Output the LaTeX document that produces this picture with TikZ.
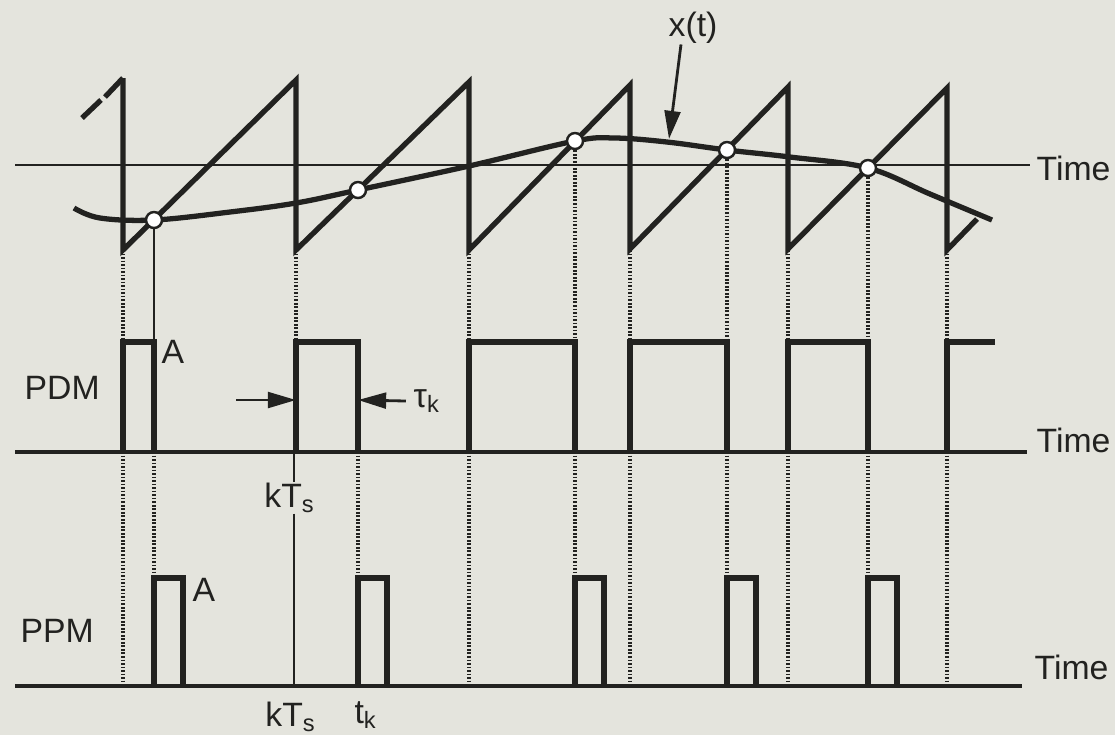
\documentclass[tikz,border=0pt]{standalone}
\usepackage{fontspec}
\setmainfont{Liberation Sans}
\usetikzlibrary{arrows.meta}
\definecolor{paper}{RGB}{228,228,221}
\definecolor{ink}{RGB}{34,34,32}
\begin{document}
\begin{tikzpicture}[x=0.01cm, y=-0.01cm, ink,
  wave/.style={line width=1.5pt},
  axis/.style={line width=0.7pt},
  guide/.style={line width=0.9pt, dash pattern=on 0.5pt off 0.5pt},
  samp/.style={circle, draw, line width=0.7pt, fill=white, inner sep=0pt, minimum size=0.16cm},
  lbl/.style={font=\fontsize{9.6}{11}\selectfont, inner sep=0pt},
  >={Triangle[length=8pt, width=4.5pt]}]
\fill[paper] (0,0) rectangle (1115,735);
\useasboundingbox (0,0) rectangle (1115,735);
\coordinate (pdmtop) at (0,342);
\coordinate (pdmbase) at (0,452);
\coordinate (ppmtop) at (0,578);
\coordinate (ppmbase) at (0,686);
\draw[axis] (15,165) -- (1030,165);
\node[lbl, anchor=west] (time1) at (1036,168) {Time};
\draw[wave] (82,118) -- (101,100);
\draw[wave] (105,97) -- (123,78);
\draw[wave] (123,78) -- (123,250) -- (296,80) -- (296,250) -- (469,82) -- (469,250) -- (630,85) -- (630,249) -- (788,87) -- (788,249) -- (947,88) -- (947,250) -- (977,219);
\draw[wave] plot[smooth, tension=0.6] coordinates {(74,208) (100,218) (154,220) (230,212) (296,203) (358,190) (469,166) (575,141) (615,138) (667,142) (727,150) (790,157) (868,168) (930,194) (992,220)};
\foreach \x/\y [count=\i] in {154/220, 358/190, 575/141, 727/150, 868/168}
  \node[samp] (s\i) at (\x,\y) {};
\node[lbl] (xt) at (693,28) {x(t)};
\coordinate (xa) at (669,139);
\draw[->, line width=0.8pt] ([xshift=-0.12cm]xt.south) -- (xa);
\foreach \x in {123,296,469,630,788,947}
  \draw[guide] (\x,250) -- (\x,342);
\draw[axis] (s1.south) -- (s1.south |- pdmtop);
\foreach \i in {3,4,5}
  \draw[guide] (s\i.south) -- (s\i.south |- pdmtop);
\draw[line width=1pt] (15,452) -- (1027,452);
\foreach \a/\b in {123/154, 296/358, 469/575, 630/727, 788/868}
  \draw[wave] (\a,452) -- (\a,342) -- (\b,342) -- (\b,452);
\draw[wave] (947,452) -- (947,342) -- (995,342);
\node[lbl, anchor=west] (pdm) at (24,388) {PDM};
\node[lbl, anchor=west] (a1) at (161,352) {A};
\node[lbl, anchor=west] (time2) at (1036,440) {Time};
\node[lbl, anchor=west] (tau) at (413,401) {τ\textsubscript{k}};
\coordinate (wl) at (296,400);
\coordinate (wr) at (358,400);
\coordinate (wa) at (236,400);
\draw[->, line width=0.8pt] (wa) -- (wl);
\draw[->, line width=0.8pt] ([xshift=-2pt]tau.west) -- (wr);
\node[lbl] (kts) at (290,498) {kT\textsubscript{s}};
\coordinate (kt) at (294,452);
\draw[axis] (kt) -- (kt |- kts.north);
\draw[axis] (kt |- kts.south) -- (kt |- ppmbase);
\foreach \x in {123,469,630,788,947}
  \draw[guide] (\x,452) -- (\x,686);
\foreach \i in {1,...,5}
  \draw[guide] (s\i |- pdmbase) -- (s\i |- ppmtop);
\draw[line width=1pt] (15,686) -- (1022,686);
\foreach \a in {154,358,575,727,868}
  \draw[wave] (\a,686) -- (\a,578) -- ++(29,0) -- ++(0,108);
\node[lbl, anchor=west] (ppm) at (20,631) {PPM};
\node[lbl, anchor=west] (a2) at (192,590) {A};
\node[lbl, anchor=west] (time3) at (1034,667) {Time};
\node[lbl, anchor=north] (kts2) at (291,701) {kT\textsubscript{s}};
\node[lbl, anchor=north] (tk) at (366,701) {t\textsubscript{k}};
\end{tikzpicture}
\end{document}
